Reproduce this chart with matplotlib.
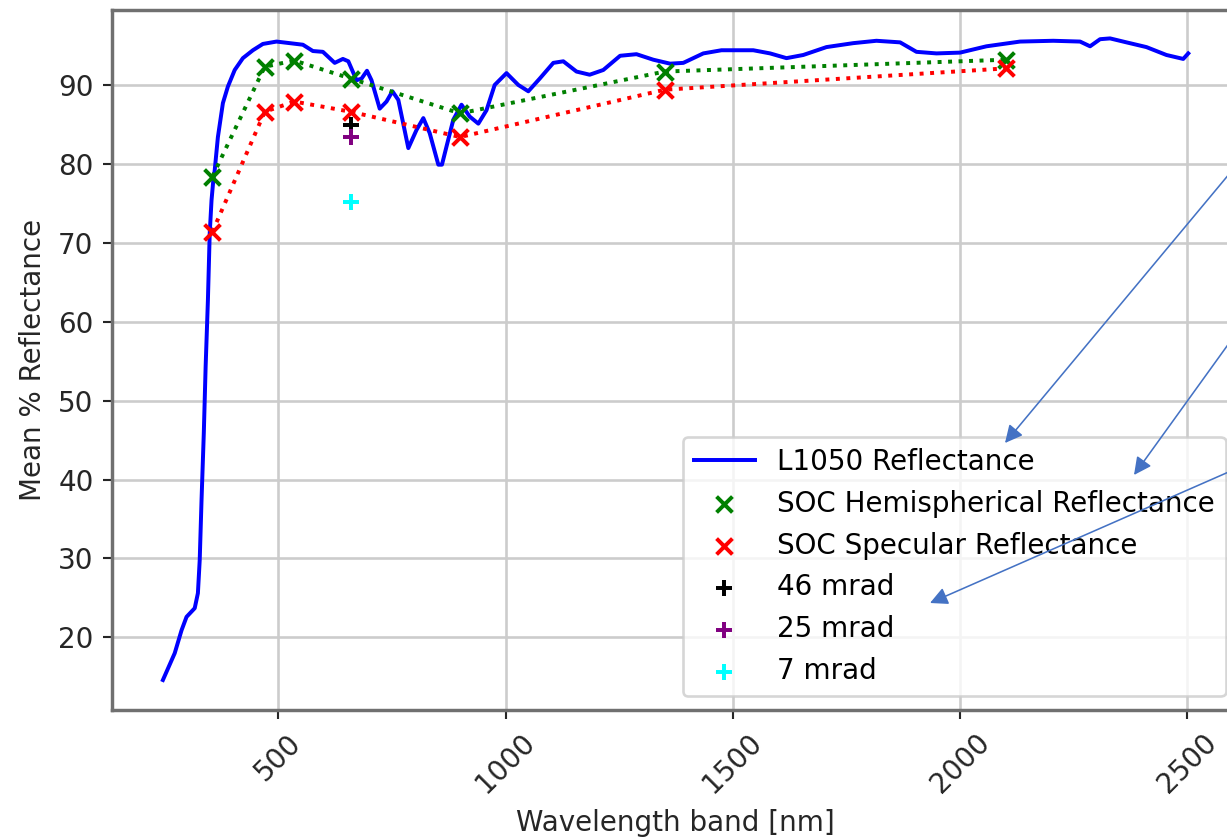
#!/usr/bin/env python3

import matplotlib.pyplot as plt
from matplotlib.patches import FancyArrowPatch

# L1050 spectrometer curve (wavelength nm, mean % reflectance)
l1050_nm = [246, 272, 287, 298, 316, 323, 327, 331, 336, 340, 345, 349, 353,
            357, 360, 367, 378, 389, 404, 422, 444, 466, 496, 525, 554, 576,
            598, 624, 642, 654, 672, 683, 695, 705, 723, 738, 751, 764, 786,
            804, 819, 833, 852, 860, 870, 885, 903, 921, 940, 958, 976, 1002,
            1028, 1050, 1075, 1105, 1127, 1156, 1185, 1215, 1252, 1288, 1325,
            1362, 1391, 1435, 1475, 1545, 1582, 1618, 1655, 1706, 1765, 1816,
            1868, 1904, 1948, 2000, 2058, 2132, 2205, 2264, 2286, 2308, 2330,
            2366, 2410, 2454, 2491, 2502]
l1050_refl = [14.6, 18.0, 20.9, 22.6, 23.7, 25.6, 29.8, 37.4, 45.9, 54.3, 62.7,
              71.2, 75.4, 78.0, 79.2, 83.4, 87.7, 89.8, 91.9, 93.4, 94.4, 95.2,
              95.5, 95.3, 95.1, 94.3, 94.2, 92.8, 93.3, 93.0, 90.6, 90.8, 91.8,
              90.6, 87.0, 87.9, 89.2, 88.1, 82.0, 84.3, 85.8, 83.9, 79.9, 79.9,
              82.2, 85.6, 87.5, 86.0, 85.1, 86.8, 90.0, 91.5, 90.0, 89.2, 90.8,
              92.8, 93.0, 91.7, 91.3, 91.9, 93.7, 93.9, 93.2, 92.7, 92.8, 94.0,
              94.4, 94.4, 94.0, 93.4, 93.8, 94.8, 95.3, 95.6, 95.4, 94.2, 94.0,
              94.1, 94.9, 95.5, 95.6, 95.5, 94.9, 95.8, 95.9, 95.4, 94.8, 93.8,
              93.3, 94.0]

# SOC measurements
soc_nm = [355, 470, 535, 660, 900, 1350, 2100]
soc_hemi = [78.4, 92.3, 93.1, 90.8, 86.4, 91.7, 93.2]
soc_spec = [71.4, 86.6, 87.9, 86.6, 83.4, 89.4, 92.1]

# specular reflectance at 660 nm for different acceptance angles
mrad_nm = 660
mrad_46 = 84.9
mrad_25 = 83.4
mrad_7 = 75.2

ARROW_COLOR = '#4472C4'
# arrows added on top of the figure (tail, head) in figure pixels from top-left
arrows = [((1240, 161), (1005, 443)),
          ((1240, 328), (1134, 475)),
          ((1240, 467), (930, 603))]


def main():
    '''Main function'''
    plt.rcParams['font.size'] = 10.5
    W, H, DPI = 1227, 838, 190
    fig = plt.figure(figsize=(W / DPI, H / DPI), dpi=DPI)
    ax = fig.add_axes([112 / W, 128 / H, 1127.6 / W, 700 / H])

    ax.plot(l1050_nm, l1050_refl, color='b', label='L1050 Reflectance')
    ax.plot(soc_nm, soc_hemi, ':', color='g')
    ax.plot(soc_nm, soc_spec, ':', color='r')
    ax.scatter(soc_nm, soc_hemi, marker='x', color='g',
               label='SOC Hemispherical Reflectance', zorder=3)
    ax.scatter(soc_nm, soc_spec, marker='x', color='r',
               label='SOC Specular Reflectance', zorder=3)
    ax.scatter([mrad_nm], [mrad_46], marker='+', color='k', label='46 mrad', zorder=3)
    ax.scatter([mrad_nm], [mrad_25], marker='+', color='purple', label='25 mrad', zorder=3)
    ax.scatter([mrad_nm], [mrad_7], marker='+', color='cyan', label='7 mrad', zorder=3)

    ax.set_xlim(134, 2615)
    ax.set_ylim(10.8, 99.5)
    ax.grid(True, color='#cccccc', lw=1.0)
    ax.set_axisbelow(True)
    for sp in ax.spines.values():
        sp.set_color('#707070')
        sp.set_linewidth(1.3)
    ax.tick_params(colors='#262626')
    plt.setp(ax.get_xticklabels(), rotation=45)

    ax.set_xlabel('Wavelength band [nm]', color='#262626')
    ax.set_ylabel('Mean % Reflectance', color='#262626')
    ax.legend(loc='lower right', handlelength=2.2)

    # annotation arrows pointing at the legend
    for (tx, ty), (hx, hy) in arrows:
        fig.patches.append(FancyArrowPatch(
            (tx / W, 1 - ty / H), (hx / W, 1 - hy / H),
            transform=fig.transFigure, arrowstyle='-|>', mutation_scale=14,
            color=ARROW_COLOR, lw=0.6, shrinkA=0, shrinkB=0))

    fig.savefig('out.png', dpi=DPI)


if __name__ == '__main__':
    main()
